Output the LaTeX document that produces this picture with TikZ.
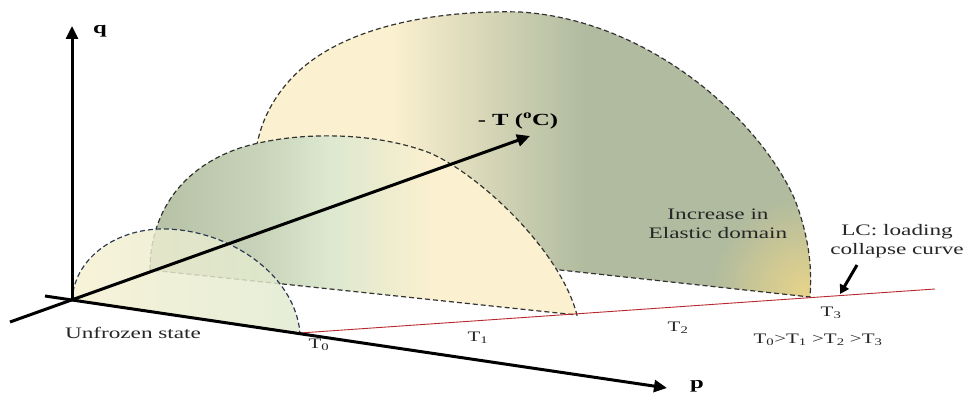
\documentclass[tikz,border=0pt]{standalone}
\usepackage{fontspec}
\setmainfont{Liberation Serif}[FakeStretch=1.45]
\usetikzlibrary{arrows.meta,fadings}

\definecolor{cream}{HTML}{FBF0CF}
\definecolor{sage}{HTML}{B0BB9F}
\definecolor{mint}{HTML}{DCE8CF}
\definecolor{sand}{HTML}{ECD689}
\definecolor{pale}{HTML}{F5F0D0}
\definecolor{lcred}{HTML}{B8282E}
\definecolor{slate}{HTML}{2E3A52}

% horizontal colour bands of the two large domains
\pgfdeclarehorizontalshading{bigdome}{100bp}{color(0bp)=(cream); color(38bp)=(cream); color(55bp)=(sage); color(100bp)=(sage)}
\pgfdeclarehorizontalshading{middome}{100bp}{color(0bp)=(sage!90!mint); color(25bp)=(sage!90!mint); color(38bp)=(sage!45!mint); color(46bp)=(mint); color(58bp)=(cream); color(100bp)=(cream)}
\tikzfading[name=glow, inner color=transparent!0, outer color=transparent!100]

% outlines of the yield domains (pixel units, y downwards)
\newcommand\bigrim{(273,239) .. controls (245,190) and (245,120) .. (300,70) .. controls (350,25) and (440,10) .. (520,12) .. controls (650,20) and (760,120) .. (795,200) .. controls (810,240) and (812,270) .. (810,297) -- cycle}
\newcommand\midrim{(150,270) .. controls (150,220) and (175,170) .. (240,148) .. controls (290,132) and (370,130) .. (430,153) .. controls (480,175) and (560,250) .. (577,315) -- cycle}
\newcommand\smallrim{(72,300) .. controls (75,255) and (120,228) .. (165,229) .. controls (230,230) and (295,275) .. (300,333) -- cycle}

\begin{document}
\begin{tikzpicture}[x=1pt, y=-1pt,
  axis/.style={line width=3pt, -{Triangle[length=13pt,width=12pt]}},
  rim/.style={line width=1.2pt, dash pattern=on 5pt off 3pt, draw=black!80},
  lbl/.style={font=\fontsize{16}{19}\selectfont, text=black!85, align=center, inner sep=0pt},
  tlbl/.style={font=\fontsize{14.5}{17}\selectfont, text=black!85, inner sep=0pt},
  head/.style={font=\fontsize{17}{20}\selectfont\bfseries, inner sep=0pt}
]
\useasboundingbox (0,0) rectangle (966,395);

\coordinate (O) at (72,300);
\coordinate (qtip) at (72,26);
\coordinate (pback) at (45,296);
\coordinate (ptip) at (667,388);
\coordinate (Tback) at (10,322);
\coordinate (Ttip) at (530,136);
\coordinate (T0pt) at (300,333);
\coordinate (LCend) at (935,289);
\coordinate (hint) at (857,265);
\coordinate (hintend) at (840,294);

% largest domain (T3)
\shade[shading=bigdome] \bigrim;
\begin{scope}
  \clip \bigrim;
  \fill[sand, path fading=glow, fill opacity=0.9] (805,292) circle (95);
\end{scope}
\draw[rim] \bigrim;

% domain at T1
\shade[shading=middome] \midrim;
\draw[rim] \midrim;

% unfrozen domain (T0)
\shade[left color=pale, right color=mint!85!pale, fill opacity=0.82] \smallrim;
\draw[rim, draw=slate] \smallrim;

% loading collapse curve
\draw[lcred, line width=0.9pt] (T0pt) -- (LCend);

% axes
\draw[axis] (O) -- (qtip);
\draw[axis] (pback) -- (ptip);
\draw[axis] (Tback) -- (Ttip);
\draw[line width=3pt, -{Triangle[length=9pt,width=10pt]}] (hint) -- (hintend);

\node[head] (qlab) at (100,31) {q};
\node[head] (Tlab) at (518,121) {- T (\textsuperscript{o}C)};
\node[head] (plab) at (697,386) {p};

\node[lbl] (unfrozen) at (133,333) {Unfrozen state};
\node[lbl] (elastic) at (718,224) {Increase in\\Elastic domain};
\node[lbl] (lc) at (897,241) {LC: loading\\collapse curve};

\node[tlbl] (t0) at (319,345) {T\textsubscript{0}};
\node[tlbl] (t1) at (478,338) {T\textsubscript{1}};
\node[tlbl] (t2) at (678,328) {T\textsubscript{2}};
\node[tlbl] (t3) at (831,313) {T\textsubscript{3}};
\node[tlbl] (order) at (818,340) {T\textsubscript{0}>T\textsubscript{1} >T\textsubscript{2} >T\textsubscript{3}};
\end{tikzpicture}
\end{document}
